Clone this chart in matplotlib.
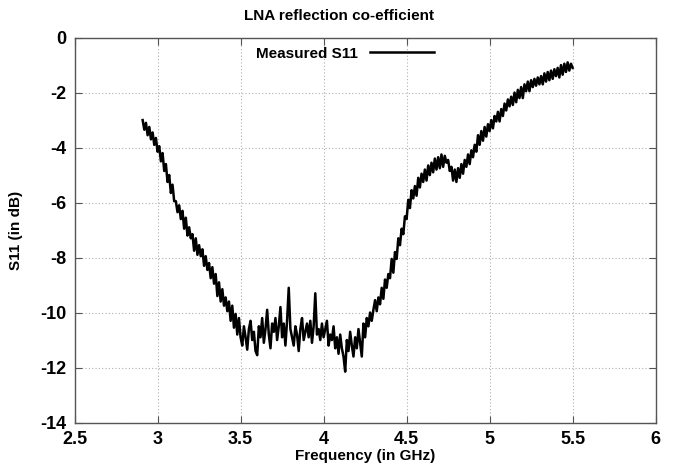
import numpy as np
import matplotlib
matplotlib.use("Agg")
import matplotlib.pyplot as plt

# Measured S11 (dB), sampled every 0.01 GHz from 2.91 to 5.50 GHz
s11_db = [
    -3.00, -3.35, -3.10, -3.55, -3.25, -3.70, -3.45, -3.90, -3.65, -4.15,
    -3.95, -4.50, -4.20, -4.85, -4.60, -5.25, -5.00, -5.65, -5.35, -5.95,
    -5.95, -6.35, -6.10, -6.60, -6.30, -6.95, -6.55, -7.20, -6.90, -7.30,
    -7.15, -7.75, -7.30, -7.90, -7.55, -7.95, -7.70, -8.30, -7.95, -8.45,
    -8.20, -8.75, -8.35, -8.95, -8.60, -9.40, -8.90, -9.60, -9.15, -9.75,
    -9.45, -9.95, -9.60, -10.30, -9.75, -10.55, -10.05, -10.80, -10.20, -10.90,
    -11.20, -10.50, -10.90, -11.35, -10.60, -10.30, -11.00, -10.70, -11.40, -11.55,
    -10.50, -10.90, -10.20, -11.10, -10.60, -9.90, -10.80, -11.30, -10.40, -10.70,
    -10.20, -11.00, -10.50, -9.80, -10.90, -10.40, -11.20, -10.30, -9.10, -10.60,
    -10.90, -11.20, -10.50, -10.80, -11.40, -10.60, -10.20, -11.00, -10.70, -10.40,
    -10.90, -10.30, -11.10, -10.50, -9.30, -10.80, -10.60, -11.00, -10.40, -10.90,
    -10.60, -10.30, -11.20, -10.80, -11.00, -10.50, -11.30, -10.90, -11.50, -10.80,
    -11.30, -11.60, -12.15, -11.00, -11.40, -10.70, -11.20, -11.60, -10.90, -11.30,
    -10.60, -11.10, -11.60, -10.40, -10.90, -10.20, -10.50, -10.00, -10.30, -9.90,
    -9.55, -9.95, -9.45, -9.70, -9.10, -9.50, -8.80, -9.10, -8.60, -8.75,
    -8.05, -8.55, -7.80, -8.05, -7.30, -7.55, -6.95, -7.15, -6.50, -6.60,
    -5.90, -6.20, -5.55, -5.85, -5.40, -5.75, -5.10, -5.45, -4.95, -5.25,
    -4.80, -5.20, -4.65, -5.00, -4.55, -4.90, -4.40, -4.80, -4.35, -4.75,
    -4.25, -4.70, -4.30, -4.55, -4.45, -4.85, -4.70, -5.20, -4.80, -5.25,
    -4.75, -5.10, -4.60, -4.95, -4.45, -4.70, -4.25, -4.60, -4.10, -4.35,
    -3.90, -4.15, -3.55, -3.90, -3.40, -3.75, -3.25, -3.60, -3.15, -3.40,
    -3.00, -3.30, -2.85, -3.05, -2.70, -3.05, -2.60, -2.85, -2.40, -2.65,
    -2.25, -2.50, -2.15, -2.45, -2.00, -2.35, -1.90, -2.20, -1.80, -2.20,
    -1.70, -1.95, -1.60, -1.95, -1.55, -1.80, -1.50, -1.75, -1.45, -1.70,
    -1.40, -1.70, -1.30, -1.60, -1.25, -1.55, -1.20, -1.50, -1.15, -1.40,
    -1.10, -1.45, -1.00, -1.35, -0.95, -1.25, -0.90, -1.20, -0.95, -1.10,
]
freq_ghz = np.linspace(2.91, 5.50, len(s11_db))

x_ticks = [2.5, 3, 3.5, 4, 4.5, 5, 5.5, 6]
x_tick_labels = ["2.5", "3", "3.5", "4", "4.5", "5", "5.5", "6"]
y_ticks = [0, -2, -4, -6, -8, -10, -12, -14]
y_tick_labels = ["0", "-2", "-4", "-6", "-8", "-10", "-12", "-14"]

plt.rcParams['font.family'] = ['Liberation Sans', 'DejaVu Sans']
plt.rcParams['font.weight'] = 'bold'

fig = plt.figure(figsize=(6.78, 4.70), dpi=100)
ax = fig.add_axes([0.110, 0.101, 0.857, 0.819])

ax.plot(freq_ghz, s11_db, color='black', linewidth=1.8, label='Measured S11')

ax.set_xlim(2.5, 6)
ax.set_ylim(-14, 0)
ax.set_xticks(x_ticks)
ax.set_xticklabels(x_tick_labels)
ax.set_yticks(y_ticks)
ax.set_yticklabels(y_tick_labels)

ax.grid(True, color='#b0b0b0', linestyle=(0, (1, 2)), linewidth=0.8)
ax.tick_params(direction='in', length=5, width=0.8, top=True, right=True,
               labelsize=13, pad=6, color='#555555')
for lbl in ax.get_xticklabels() + ax.get_yticklabels():
    lbl.set_fontweight('bold')
for sp in ax.spines.values():
    sp.set_color('#555555')
    sp.set_linewidth(1.0)

ax.set_xlabel('Frequency (in GHz)', fontsize=11, fontweight='bold', labelpad=1)
ax.set_ylabel('S11 (in dB)', fontsize=11, fontweight='bold', labelpad=12)
fig.text(0.5, 0.965, 'LNA reflection co-efficient', ha='center', va='center',
         fontsize=11, fontweight='bold')

leg = ax.legend(loc='upper center', bbox_to_anchor=(0.465, 1.0), frameon=False,
                markerfirst=False, fontsize=11, handlelength=4.2,
                borderaxespad=0.2, handletextpad=0.8)
for t in leg.get_texts():
    t.set_fontweight('bold')

fig.savefig('out.png', dpi=100)
